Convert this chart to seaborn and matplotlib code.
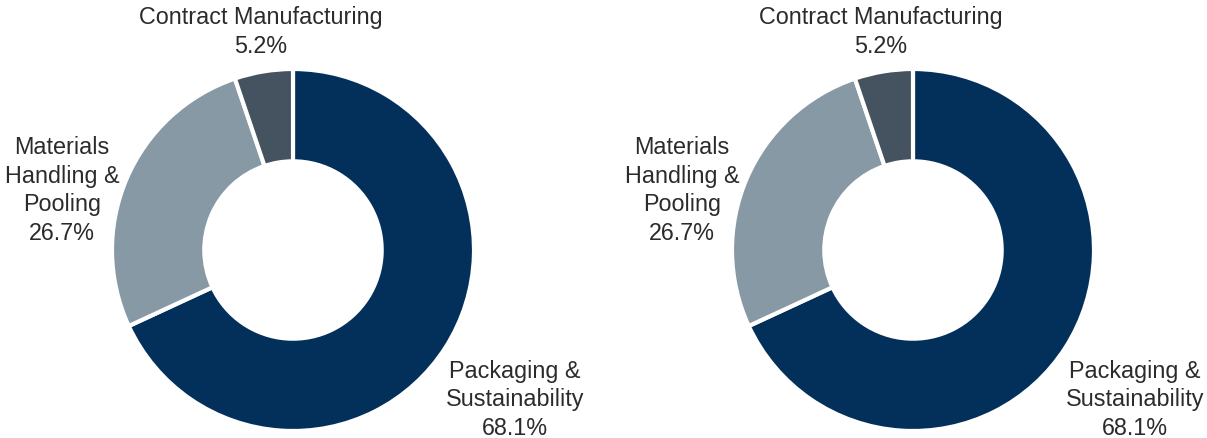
import matplotlib
matplotlib.use("Agg")
import matplotlib.pyplot as plt
import seaborn as sns

segments = ["Packaging &\nSustainability", "Materials\nHandling &\nPooling", "Contract Manufacturing"]
shares = [68.1, 26.7, 5.2]
colors = ["#03305A", "#8899A6", "#44535F"]

sns.set_theme(style="white")
plt.rcParams["font.family"] = ["Liberation Sans", "DejaVu Sans"]

W, H = 1207, 439
fig = plt.figure(figsize=(W / 100, H / 100), dpi=100)

radius_px = 181
label_pos = [(1.227, -0.823), (-1.276, 0.334), (-0.18, 1.21)]

for cx in (293, 913):
    cy = 251
    ax = fig.add_axes([(cx - radius_px) / W, (H - cy - radius_px) / H,
                       2 * radius_px / W, 2 * radius_px / H])
    ax.pie(shares, colors=colors, startangle=90, counterclock=False,
           radius=1.0,
           wedgeprops=dict(width=0.51, edgecolor="white", linewidth=3))
    ax.set_xlim(-1, 1)
    ax.set_ylim(-1, 1)
    ax.set_aspect("equal")
    ax.axis("off")
    for name, val, (lx, ly) in zip(segments, shares, label_pos):
        ax.text(lx, ly, f"{name}\n{val:.1f}%", ha="center", va="center",
                fontsize=16.8, color="#2b2b2b", linespacing=1.32, clip_on=False)

fig.savefig("out.png", dpi=100)
